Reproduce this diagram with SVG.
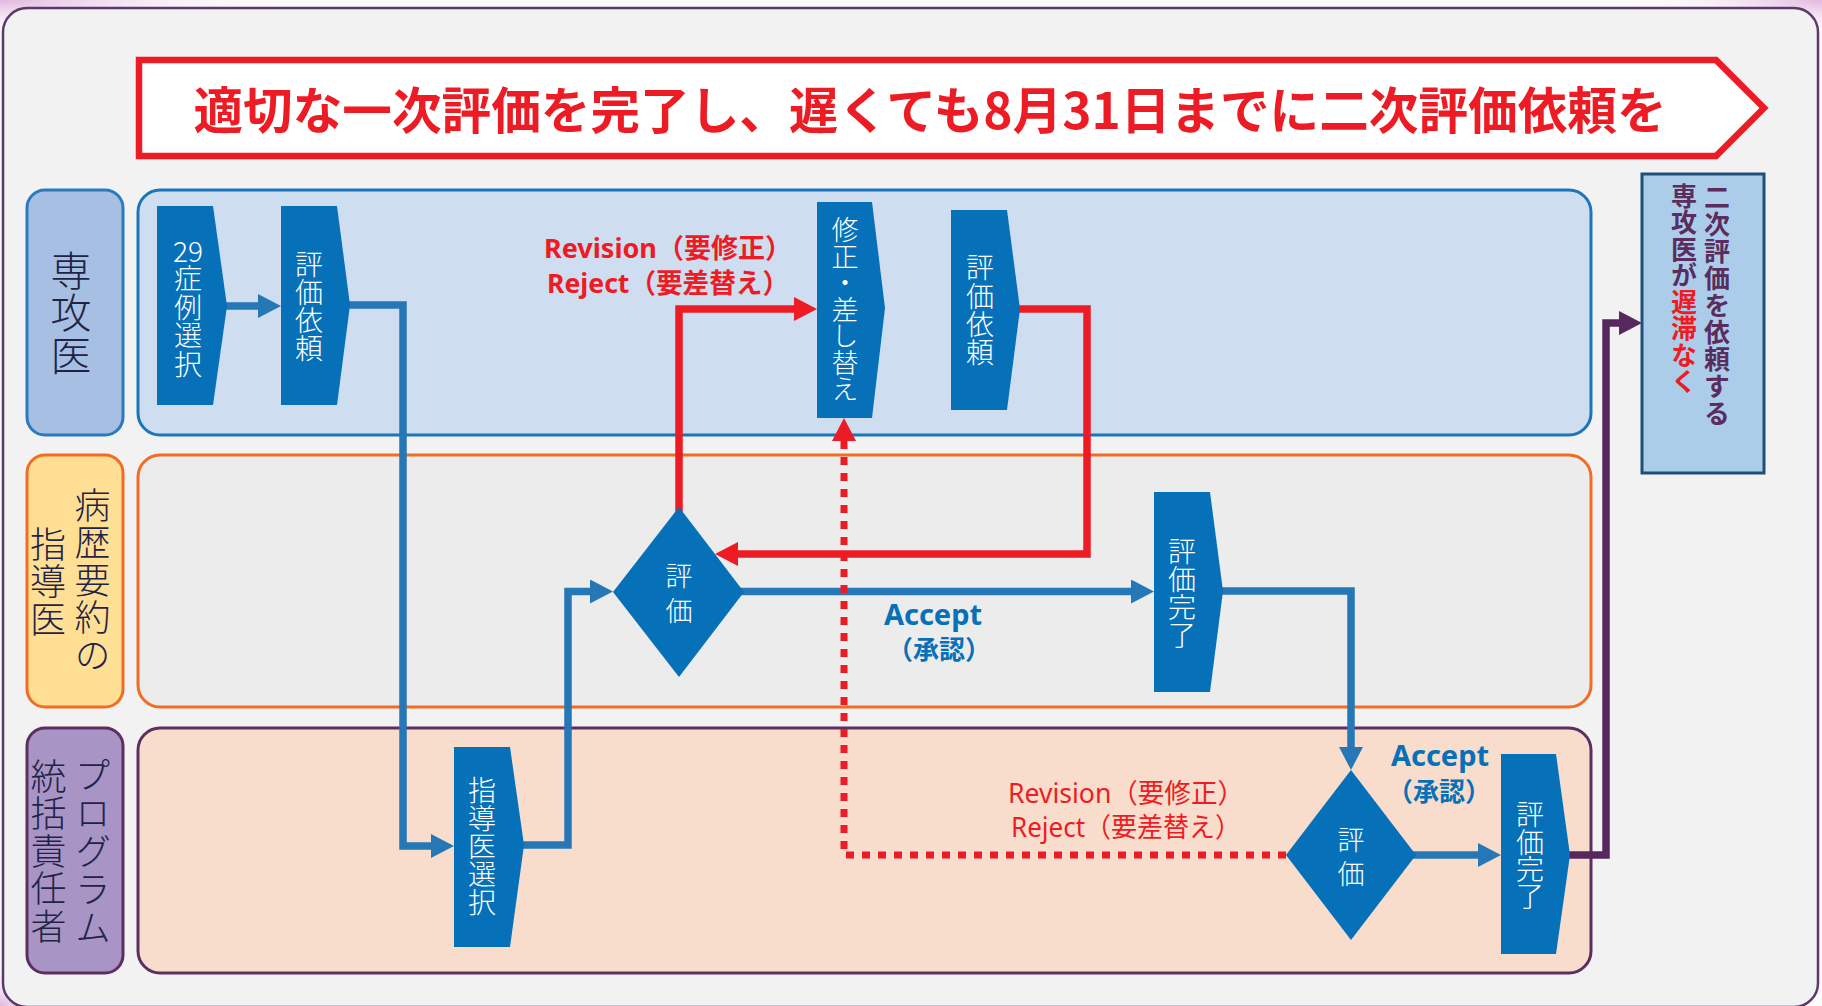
<svg xmlns="http://www.w3.org/2000/svg" width="1822" height="1006" viewBox="0 0 1822 1006">
<style>
.bgframe{fill:#f2f2f2;stroke:#5b3a6b;stroke-width:2.5}
.lbl1{fill:#a7bfe2;stroke:#2a7abf;stroke-width:3}
.lane1{fill:#cedef0;stroke:#1b75bc;stroke-width:3}
.lbl2{fill:#fedf94;stroke:#f36c25;stroke-width:3}
.lane2{fill:#ececec;stroke:#f36c25;stroke-width:3}
.lbl3{fill:#a994c6;stroke:#5c2e62;stroke-width:3}
.lane3{fill:#f9ddcc;stroke:#5c2e62;stroke-width:3}
.node{fill:#0670b8}
.v{writing-mode:vertical-rl;text-orientation:upright}
.nt{font-family:"Noto Sans CJK JP",sans-serif;font-size:28px;font-weight:300;fill:#ffffff}
.lt{font-family:"Noto Sans CJK JP",sans-serif;font-size:36px;font-weight:300;fill:#1f2447}
.bt{font-family:"Noto Sans CJK JP",sans-serif;font-size:26px;font-weight:700;fill:#5a2d5e}
.red{fill:#ed1c24}
.cb{fill:none;stroke:#2677b6;stroke-width:7.5}
.cr{fill:none;stroke:#ed1c24;stroke-width:7.5}
.cd{fill:none;stroke:#ed1c24;stroke-width:7;stroke-dasharray:8 8}
.cp{fill:none;stroke:#57285e;stroke-width:7.5}
.lab{font-family:"Noto Sans","Noto Sans CJK JP",sans-serif;text-anchor:middle}
</style>
<defs>
<marker id="ab" markerUnits="userSpaceOnUse" viewBox="0 0 24 24" markerWidth="24" markerHeight="24" refX="11" refY="12" orient="auto"><path d="M0,0 L23,12 L0,24 z" fill="#2677b6"/></marker>
<marker id="ar" markerUnits="userSpaceOnUse" viewBox="0 0 24 24" markerWidth="24" markerHeight="24" refX="11" refY="12" orient="auto"><path d="M0,0 L23,12 L0,24 z" fill="#ed1c24"/></marker>
<marker id="ap" markerUnits="userSpaceOnUse" viewBox="0 0 24 24" markerWidth="24" markerHeight="24" refX="11" refY="12" orient="auto"><path d="M0,0 L23,12 L0,24 z" fill="#57285e"/></marker>
<radialGradient id="pk1" cx="0" cy="0" r="1"><stop offset="0" stop-color="#e2b8e0"/><stop offset="1" stop-color="#ffffff" stop-opacity="0"/></radialGradient>
</defs>

<rect x="0" y="0" width="1822" height="1006" fill="#fbfafc"/>
<rect x="0" y="0" width="300" height="40" fill="url(#pk1)"/>
<rect x="1822" y="0" width="200" height="40" fill="url(#pk1)" transform="translate(3644,0) scale(-1,1)"/>
<rect x="0" y="960" width="60" height="46" fill="url(#pk1)" transform="translate(0,1966) scale(1,-1)"/>
<rect class="bgframe" x="3" y="8" width="1815" height="999" rx="24"/>

<g id="banner">
<polygon points="139,60 1716,60 1764,108 1716,156 139,156" fill="#ffffff" stroke="#ed1c24" stroke-width="6.5"/>
<text x="930" y="129" textLength="1473" lengthAdjust="spacingAndGlyphs" text-anchor="middle" font-family="'Noto Sans CJK JP',sans-serif" font-size="50" font-weight="700" fill="#ed1c24">適切な一次評価を完了し、遅くても8月31日までに二次評価依頼を</text>
</g>

<g id="lane-senkoui">
<rect class="lane1" x="138" y="190" width="1453" height="245" rx="22"/>
<rect class="lbl1" x="27" y="190" width="96" height="245" rx="18"/>
<text class="lt v" x="71" y="249.5" style="font-size:41px;letter-spacing:1.5px">専攻医</text>
</g>
<g id="lane-shidoui">
<rect class="lane2" x="138" y="455" width="1453" height="252" rx="22"/>
<rect class="lbl2" x="27" y="455" width="96" height="252" rx="18"/>
<text class="lt v" x="92.5" y="487.2" style="letter-spacing:1.5px">病歴要約の</text>
<text class="lt v" x="48" y="526" style="letter-spacing:1.5px">指導医</text>
</g>
<g id="lane-program">
<rect class="lane3" x="138" y="728" width="1453" height="245" rx="22"/>
<rect class="lbl3" x="27" y="728" width="96" height="245" rx="18"/>
<text class="lt v" x="93" y="757" style="letter-spacing:2px">プログラム</text>
<text class="lt v" x="48.5" y="758" style="letter-spacing:1.5px">統括責任者</text>
</g>

<g id="connectors">
<path id="c1" class="cb" d="M220,306 H269" marker-end="url(#ab)"/>
<path id="c2" class="cb" d="M345,305 H403 V846 H442" marker-end="url(#ab)"/>
<path id="c3" class="cb" d="M518,845 H568 V591.5 H601" marker-end="url(#ab)"/>
<path id="c4" class="cb" d="M735,591.5 H1142" marker-end="url(#ab)"/>
<path id="c5" class="cb" d="M1215,591 H1351 V758" marker-end="url(#ab)"/>
<path id="c6" class="cb" d="M1405,855 H1489" marker-end="url(#ab)"/>
<path id="c7" class="cp" d="M1562,855 H1606 V323 H1630" marker-end="url(#ap)"/>
<path id="c8" class="cr" d="M679,525 V309 H805" marker-end="url(#ar)"/>
<path id="c9" class="cr" d="M1013,309 H1087 V554 H727" marker-end="url(#ar)"/>
<path id="c10" class="cd" d="M1286,855 H844 V430" marker-end="url(#ar)"/>
<g id="edge-labels">
<text class="lab" font-size="27" font-weight="700" fill="#ed1c24"><tspan x="668" y="258" textLength="248" lengthAdjust="spacingAndGlyphs">Revision（要修正）</tspan><tspan x="668" y="293" textLength="242" lengthAdjust="spacingAndGlyphs">Reject（要差替え）</tspan></text>
<text class="lab" font-weight="700" fill="#0670b8"><tspan x="933" y="625" font-size="29">Accept</tspan><tspan x="939" y="659" font-size="26">（承認）</tspan></text>
<text class="lab" font-weight="700" fill="#0670b8"><tspan x="1440" y="765.5" font-size="29">Accept</tspan><tspan x="1439" y="800.5" font-size="26">（承認）</tspan></text>
<text class="lab" font-size="27" fill="#ed1c24"><tspan x="1126" y="803" textLength="236" lengthAdjust="spacingAndGlyphs">Revision（要修正）</tspan><tspan x="1126" y="837" textLength="230" lengthAdjust="spacingAndGlyphs">Reject（要差替え）</tspan></text>
</g>
</g>

<g id="n-29">
<polygon class="node" points="157,206 213,206 227,306 213,405 157,405"/>
<text class="nt" x="188" y="262" text-anchor="middle">29</text>
<text class="nt v" x="188" y="264.6" style="letter-spacing:0.5px">症例選択</text>
</g>
<g id="n-irai1">
<polygon class="node" points="281,206 337,206 350,305 337,405 281,405"/>
<text class="nt v" x="309" y="250.6">評価依頼</text>
</g>
<g id="n-shusei">
<polygon class="node" points="817,202 872,202 885,308 872,418 817,418"/>
<text class="nt v" x="845" y="216.7" style="font-size:27px;letter-spacing:-0.5px">修正・差し替え</text>
</g>
<g id="n-irai2">
<polygon class="node" points="951,210 1007,210 1020,309 1007,410 951,410"/>
<text class="nt v" x="980" y="253.6" style="letter-spacing:0.3px">評価依頼</text>
</g>
<g id="n-shidoui-sentaku">
<polygon class="node" points="454,747 510,747 524,845 510,947 454,947"/>
<text class="nt v" x="482" y="776.6">指導医選択</text>
</g>
<g id="n-hyoka1">
<polygon class="node" points="679,507 744,592 679,677 613,592"/>
<text class="nt v" x="679" y="562" style="font-size:27px;letter-spacing:8px">評価</text>
</g>
<g id="n-kanryo1">
<polygon class="node" points="1154,492 1210,492 1223,591 1210,692 1154,692"/>
<text class="nt v" x="1182" y="537.6">評価完了</text>
</g>
<g id="n-hyoka2">
<polygon class="node" points="1351,770 1416,855 1351,940 1286,855"/>
<text class="nt v" x="1351" y="826" style="font-size:27px;letter-spacing:7.5px">評価</text>
</g>
<g id="n-kanryo2">
<polygon class="node" points="1501,754 1556,754 1570,855 1556,954 1501,954"/>
<text class="nt v" x="1530" y="800.6" style="letter-spacing:-0.7px">評価完了</text>
</g>
<g id="n-goal">
<rect x="1642" y="174" width="122" height="299" fill="#abcde9" stroke="#1f4e79" stroke-width="3"/>
<text class="bt v" x="1717" y="184" style="letter-spacing:1px">二次評価を依頼する</text>
<text class="bt v" x="1684" y="183" style="letter-spacing:0.5px">専攻医が<tspan class="red">遅滞なく</tspan></text>
</g>
</svg>
